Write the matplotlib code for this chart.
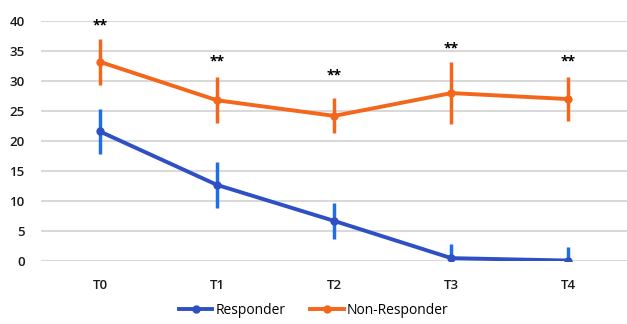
import matplotlib
matplotlib.use('Agg')
import matplotlib.pyplot as plt
from matplotlib.lines import Line2D

timepoints = ['T0', 'T1', 'T2', 'T3', 'T4']
responder = [21.6, 12.7, 6.7, 0.5, 0.1]
responder_err = [3.8, 3.9, 3.0, 2.3, 2.2]
non_responder = [33.2, 26.8, 24.2, 28.0, 27.0]
non_responder_err = [3.8, 3.8, 2.9, 5.2, 3.6]
stars = ['**', '**', '**', '**', '**']
star_y = [39.2, 33.2, 31.0, 35.5, 33.2]

orange = '#F4661B'
blue_line = '#2F4FC4'
blue_err = '#1E6FE6'

plt.rcParams['font.family'] = ['Open Sans', 'DejaVu Sans']

fig = plt.figure(figsize=(6.27, 3.24), dpi=100)
ax = fig.add_axes([0.066, 0.194, 0.934, 0.741])

x = list(range(len(timepoints)))

ax.errorbar(x, responder, yerr=responder_err, color=blue_line, ecolor=blue_err,
            elinewidth=2.5, capsize=0, lw=2.8, marker='o', ms=5, zorder=3)
ax.errorbar(x, non_responder, yerr=non_responder_err, color=orange, ecolor=orange,
            elinewidth=2.5, capsize=0, lw=2.8, marker='o', ms=5, zorder=3)

for xi, s, sy in zip(x, stars, star_y):
    ax.text(xi, sy, s, ha='center', va='center', fontsize=10, fontweight='bold', color='black')

ax.set_xlim(-0.5, 4.5)
ax.set_ylim(0, 40)
ax.set_yticks(range(0, 41, 5))
ax.set_xticks(x)
ax.set_xticklabels(timepoints)
ax.grid(axis='y', color='#D9D9D9', linewidth=1.5)
ax.set_axisbelow(True)
for sp in ax.spines.values():
    sp.set_visible(False)
ax.tick_params(length=0, labelsize=9.5, colors='#1a1a1a', pad=13)
ax.tick_params(axis='y', pad=12)
for lbl in ax.get_xticklabels() + ax.get_yticklabels():
    lbl.set_fontweight('semibold')

handles = [Line2D([], [], color=blue_line, lw=2.8, marker='o', ms=5),
           Line2D([], [], color=orange, lw=2.8, marker='o', ms=5)]
fig.legend(handles, ['Responder', 'Non-Responder'], loc='lower center',
           bbox_to_anchor=(0.5, -0.02), ncol=2, frameon=False, fontsize=10,
           handlelength=2.4, handletextpad=0.2, columnspacing=1.8)

fig.savefig('out.png', dpi=100)
